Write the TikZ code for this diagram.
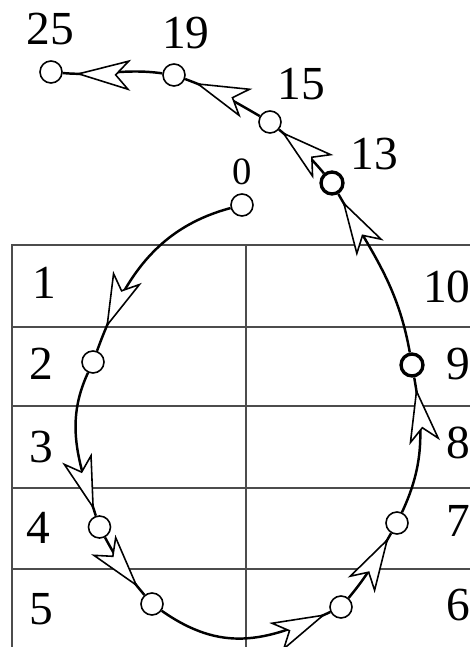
\documentclass[tikz,border=0pt]{standalone}
\usepackage{fontspec}
\setmainfont{Liberation Serif}
\usepackage{tikz}
\usetikzlibrary{arrows.meta, decorations.markings}

\tikzset{hd/.tip={Stealth[length=1.1cm, width=0.62cm, inset=0.28cm, fill=white, line width=0.9pt]}}

\begin{document}
\begin{tikzpicture}[
    x=0.02cm, y=0.02cm,
    grid/.style={draw=black!70, line width=0.85pt},
    pt/.style={draw, circle, fill=white, inner sep=0pt, minimum size=0.44cm, line width=0.9pt},
    hot/.style={pt, line width=1.9pt},
    num/.style={inner sep=0pt, font=\fontsize{27}{30}\selectfont},
    flow/.style={line width=1.4pt, postaction={decorate, decoration={markings, mark=at position -#1 with {\arrow{hd}}}}}
]
\useasboundingbox (0,0) rectangle (470,647);

% table
\draw[grid] (12,0) -- (12,402) -- (470,402);
\foreach \y in {320,241,159,78}
  \draw[grid] (12,\y) -- (470,\y);
\draw[grid] (246,0) -- (246,402);

% row numbers
\node[num] (r1) at (44,364) {1};
\node[num] (r2) at (41,283) {2};
\node[num] (r3) at (41,200) {3};
\node[num] (r4) at (38,119) {4};
\node[num] (r5) at (41,38) {5};
\node[num, anchor=east] (r10) at (471,360) {10};
\node[num, anchor=east] (r9) at (471,283) {9};
\node[num, anchor=east] (r8) at (471,204) {8};
\node[num, anchor=east] (r7) at (471,126) {7};
\node[num, anchor=east] (r6) at (471,42) {6};

% points on the path
\node[pt] (p0) at (242,442) {};
\node[pt] (p2) at (93,285) {};
\node[pt] (p4) at (99.5,120) {};
\node[pt] (p5) at (152,43) {};
\node[pt] (p6) at (341,40) {};
\node[pt] (p7) at (397,124) {};
\node[hot] (p9) at (412,282) {};
\node[hot] (p13) at (332,464) {};
\node[pt] (p15) at (270,525) {};
\node[pt] (p19) at (174,572) {};
\node[pt] (p25) at (51,575) {};

\node[num, font=\fontsize{22}{24}\selectfont] (l0) at (242,475) {0};
\node[num] (l13) at (374,493) {13};
\node[num] (l15) at (301,563) {15};
\node[num] (l19) at (186,614) {19};
\node[num] (l25) at (50,618) {25};

% path
\draw[flow=0.5cm] (p0) to[out=195, in=70] (p2);
\draw[flow=0.12cm] (p2) to[out=-115, in=108] (p4);
\draw[flow=0.2cm] (p4) to[out=-62, in=130] (p5);
\draw[flow=0.1cm] (p5) to[out=-35, in=205, looseness=1.1] (p6);
\draw[flow=0.1cm] (p6) to[out=50, in=240] (p7);
\draw[flow=0.22cm] (p7) to[out=65, in=-80] (p9);
\draw[flow=0.16cm] (p9) to[out=100, in=-60] (p13);
\draw[flow=0.06cm] (p13) to[out=130, in=-40] (p15);
\draw[flow=0.22cm] (p15) to[out=150, in=-20] (p19);
\draw[flow=0.26cm] (p19) to[out=172, in=-5] (p25);

\end{tikzpicture}
\end{document}
